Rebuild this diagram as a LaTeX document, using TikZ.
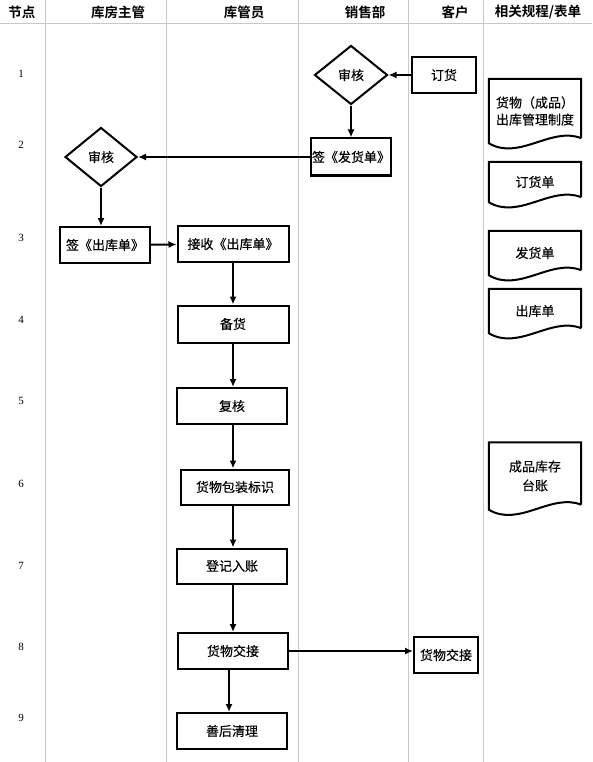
\documentclass[tikz,border=0pt]{standalone}
\usepackage{fontspec}
\setmainfont{Noto Sans CJK SC}[FakeBold=0.3]
\newfontfamily\headfont{Noto Sans CJK SC Bold}
\newfontfamily\numfont{Liberation Serif}
\usetikzlibrary{shapes,arrows.meta}
\definecolor{lanecolour}{HTML}{C8C8C8}
% outline of a document sheet round a node
\newcommand{\docpage}[1]{\draw[line width=2pt] ([yshift=5pt]#1.south east) -- (#1.north east) -- (#1.north west) -- (#1.south west) .. controls +(30pt,-18pt) and +(-30pt,12pt) .. ([yshift=5pt]#1.south east);}

\begin{document}
\begin{tikzpicture}[x=1pt,y=-1pt,
  font=\fontsize{13}{15}\selectfont,
  box/.style={draw,line width=2pt,inner sep=0pt,minimum width=110pt,minimum height=36pt},
  check/.style={draw,line width=2pt,diamond,inner sep=0pt,minimum width=73pt,minimum height=59pt},
  doc/.style={inner sep=0pt,minimum width=92pt},
  head/.style={font=\headfont\fontsize{13.5}{15}\selectfont},
  nodenum/.style={font=\numfont\fontsize{11}{13}\selectfont},
  flow/.style={-{Latex[length=8pt,width=7pt]},line width=2pt}]
\useasboundingbox (0,0) rectangle (592,762);

% Lanes
\foreach \x in {45,166,298,408,483}
  \draw[lanecolour] (\x,0) -- (\x,762);
\draw[lanecolour,thick] (0,23) -- (592,23);

% Headers
\node[head] (hnode) at (22,12) {节点};
\node[head] (hmgr) at (118,12) {库房主管};
\node[head] (hkeeper) at (244,12) {库管员};
\node[head] (hsales) at (365,12) {销售部};
\node[head] (hclient) at (455,12) {客户};
\node[head] (hdocs) at (538,12) {相关规程/表单};

% Node numbers
\foreach \n/\y in {1/74,2/145,3/238,4/320,5/401,6/484,7/566,8/647,9/718}
  \node[nodenum] (num\n) at (21,\y) {\n};

% Sales and client
\node[check] (salescheck) at (351,75) {审核};
\node[box,minimum width=64pt] (order) at (444,75) {订货};
\node[box,minimum width=80pt,minimum height=37pt] (signdelivery) at (351,157) {签《发货单》};

% Warehouse manager
\node[check,minimum width=72pt] (mgrcheck) at (101,157) {审核};
\node[box,minimum width=90pt] (signout) at (105,245) {签《出库单》};

% Warehouse keeper
\node[box,minimum width=111pt] (receive) at (233,244) {接收《出库单》};
\node[box,minimum width=111pt,minimum height=37pt] (prepare) at (233,324) {备货};
\node[box] (recheck) at (232,406) {复核};
\node[box,minimum width=108pt,minimum height=35pt] (pack) at (235,487) {货物包装标识};
\node[box,minimum height=35pt] (book) at (232,566) {登记入账};
\node[box] (handover) at (233,651) {货物交接};
\node[box] (cleanup) at (232,731) {善后清理};
\node[box,minimum width=64pt] (clienthandover) at (446,655) {货物交接};

% Flow
\draw[flow] (order) -- (salescheck);
\draw[flow] (salescheck) -- (signdelivery);
\draw[flow] (signdelivery) -- (mgrcheck);
\draw[flow] (mgrcheck.south) -- (mgrcheck.south |- signout.north);
\draw[flow] (signout) -- (receive);
\draw[flow] (receive.south) -- (receive.south |- prepare.north);
\draw[flow] (prepare.south) -- (prepare.south |- recheck.north);
\draw[flow] (prepare.south |- recheck.south) -- (prepare.south |- pack.north);
\draw[flow] (prepare.south |- pack.south) -- (prepare.south |- book.north);
\draw[flow] (prepare.south |- book.south) -- (prepare.south |- handover.north);
\draw[flow] (handover.east) -- (handover.east -| clienthandover.west);
\draw[flow] ([xshift=-4pt]handover.south) -- ([xshift=-4pt]handover.south |- cleanup.north);

% Documents
\node[doc,minimum height=64pt,align=left] (rules) at (535,111) {货物（成品）\\[2pt]出库管理制度};
\node[doc,minimum height=40pt] (orderform) at (535,182) {订货单};
\node[doc,minimum height=44pt] (deliveryform) at (535,253) {发货单};
\node[doc,minimum height=44pt] (outform) at (535,311) {出库单};
\node[doc,minimum height=67pt,align=center] (ledger) at (535,476) {成品库存\\[4pt]台账};
\docpage{rules}
\docpage{orderform}
\docpage{deliveryform}
\docpage{outform}
\docpage{ledger}

\end{tikzpicture}
\end{document}
